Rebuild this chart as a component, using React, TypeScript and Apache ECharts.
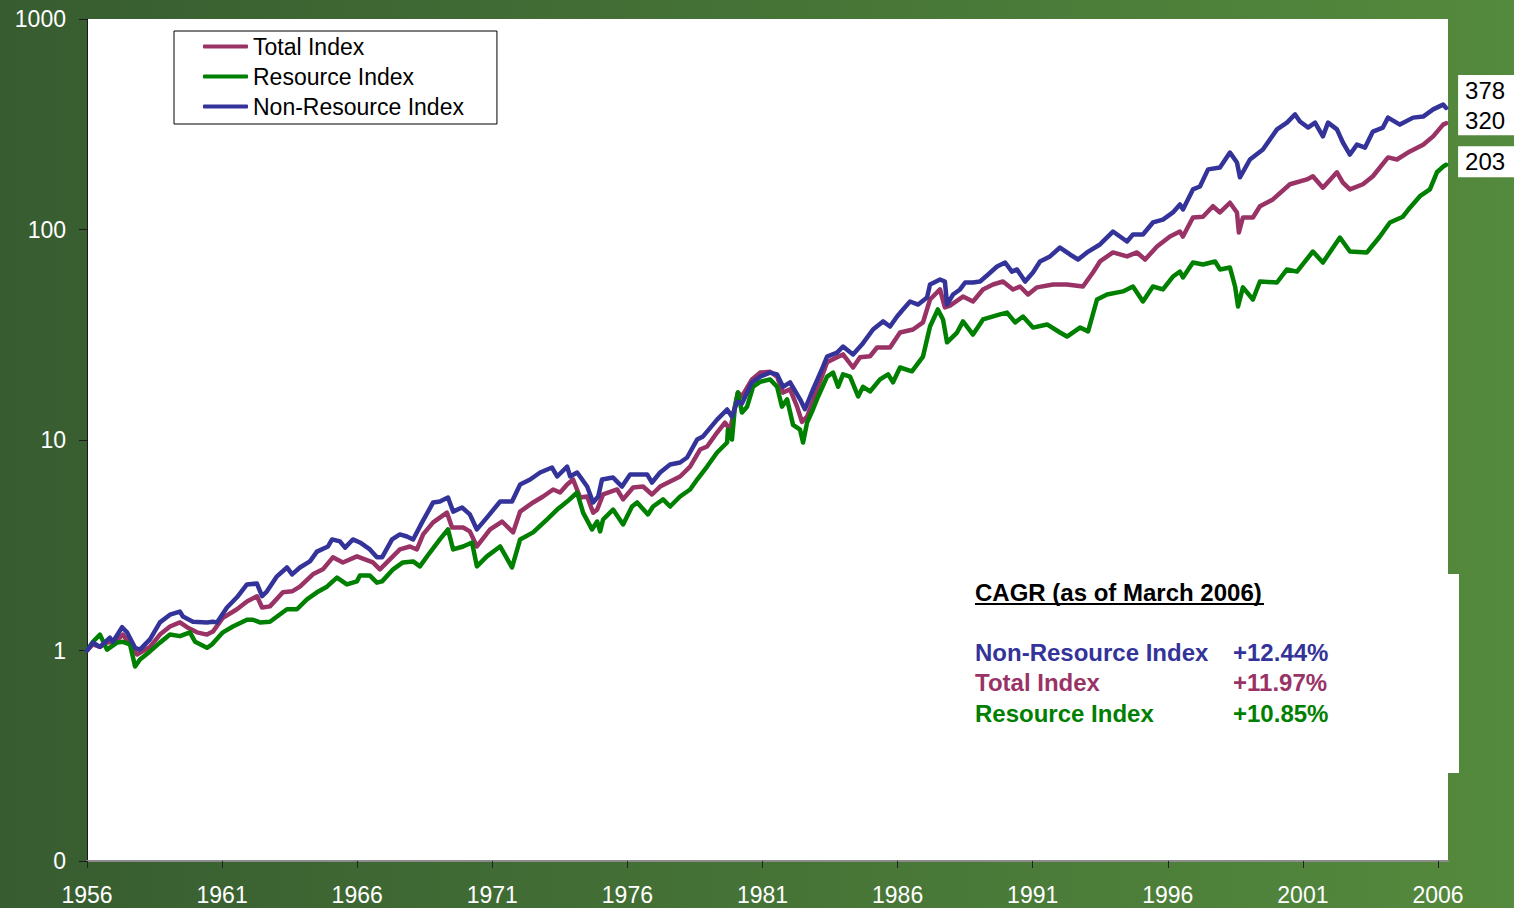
import React, { useEffect, useRef } from 'react';
import * as echarts from 'echarts';

const FONT = '"Liberation Sans", Arial, Helvetica, sans-serif';

const baseYear = 1956;
const xTickYears = [1956, 1961, 1966, 1971, 1976, 1981, 1986, 1991, 1996, 2001, 2006];
const xMaxYear = 2006.37;

const seriesNames = ['Total Index', 'Resource Index', 'Non-Resource Index'];
const seriesColors = ['#993366', '#008000', '#333399'];

// [decimal year, index value]
const totalIndex: [number, number][] = [
  [1956.0, 1.0], [1956.22, 1.07], [1956.48, 1.04], [1956.74, 1.09], [1957.04, 1.1], [1957.33, 1.19], [1957.52, 1.1],
  [1957.85, 0.957], [1958.33, 1.04], [1958.7, 1.19], [1959.07, 1.3], [1959.44, 1.36], [1959.7, 1.29], [1960.07, 1.22],
  [1960.44, 1.19], [1960.66, 1.23], [1961.03, 1.43], [1961.55, 1.57], [1961.92, 1.71], [1962.29, 1.81], [1962.48, 1.6],
  [1962.77, 1.62], [1963.25, 1.89], [1963.59, 1.91], [1963.88, 2.01], [1964.36, 2.3], [1964.73, 2.43], [1965.1, 2.77],
  [1965.47, 2.62], [1965.99, 2.8], [1966.58, 2.62], [1966.84, 2.43], [1967.21, 2.71], [1967.58, 3.02], [1967.95, 3.12],
  [1968.21, 3.02], [1968.44, 3.56], [1968.81, 4.06], [1969.32, 4.52], [1969.51, 3.84], [1969.92, 3.84], [1970.17, 3.68],
  [1970.43, 3.12], [1970.92, 3.76], [1971.36, 4.1], [1971.77, 3.64], [1972.03, 4.57], [1972.51, 5.05], [1972.88, 5.39],
  [1973.25, 5.82], [1973.51, 5.63], [1973.77, 6.15], [1973.99, 6.49], [1974.25, 5.33], [1974.51, 5.39], [1974.73, 4.52],
  [1974.88, 4.67], [1975.1, 5.51], [1975.62, 5.82], [1975.84, 5.22], [1976.21, 5.95], [1976.58, 6.01], [1976.91, 5.51],
  [1977.21, 6.01], [1977.58, 6.35], [1977.95, 6.71], [1978.32, 7.48], [1978.69, 9.01], [1978.95, 9.31], [1979.32, 10.85],
  [1979.61, 12.1], [1979.8, 11.2], [1980.09, 16.8], [1980.24, 16.1], [1980.61, 19.4], [1980.91, 20.9], [1981.28, 21.1],
  [1981.54, 20.0], [1981.76, 16.8], [1982.02, 17.4], [1982.28, 14.4], [1982.46, 12.2], [1982.65, 12.9], [1983.06, 17.9],
  [1983.39, 23.4], [1983.76, 24.7], [1983.98, 25.5], [1984.35, 22.1], [1984.61, 24.7], [1984.98, 25.0], [1985.24, 27.5],
  [1985.72, 27.5], [1986.09, 32.4], [1986.57, 33.5], [1986.94, 36.2], [1987.2, 46.5], [1987.57, 51.9], [1987.75, 42.6],
  [1987.94, 43.5], [1988.42, 48.0], [1988.79, 45.5], [1989.16, 51.9], [1989.53, 54.8], [1989.9, 56.6], [1990.27, 51.9],
  [1990.53, 53.6], [1990.83, 49.1], [1991.16, 53.1], [1991.75, 54.8], [1992.27, 54.8], [1992.86, 53.6], [1993.23, 62.5],
  [1993.49, 70.5], [1993.97, 77.8], [1994.49, 74.5], [1994.86, 77.8], [1995.16, 72.0], [1995.6, 83.0], [1996.08, 92.6],
  [1996.45, 97.8], [1996.56, 92.6], [1996.93, 114], [1997.3, 115], [1997.67, 129], [1997.93, 120.5], [1998.3, 134],
  [1998.56, 120.5], [1998.63, 96.8], [1998.78, 114], [1999.15, 114], [1999.41, 129], [1999.89, 139], [2000.52, 164],
  [2001.15, 173], [2001.37, 179], [2001.74, 158], [2002.26, 187], [2002.48, 167], [2002.74, 155], [2003.22, 164],
  [2003.59, 179], [2004.15, 220], [2004.48, 215], [2004.96, 235], [2005.45, 253], [2005.82, 277], [2006.19, 315],
  [2006.3, 320],
];

const resourceIndex: [number, number][] = [
  [1956.0, 1.0], [1956.22, 1.1], [1956.48, 1.19], [1956.74, 1.01], [1957.11, 1.09], [1957.33, 1.1], [1957.59, 1.07],
  [1957.78, 0.84], [1957.96, 0.906], [1958.33, 0.99], [1958.7, 1.09], [1959.07, 1.19], [1959.44, 1.17], [1959.81, 1.22],
  [1960.0, 1.1], [1960.44, 1.03], [1960.63, 1.07], [1961.03, 1.22], [1961.4, 1.3], [1961.92, 1.4], [1962.14, 1.4],
  [1962.4, 1.36], [1962.77, 1.37], [1963.4, 1.57], [1963.77, 1.57], [1964.14, 1.75], [1964.51, 1.89], [1964.88, 2.01],
  [1965.25, 2.22], [1965.62, 2.06], [1965.99, 2.13], [1966.1, 2.27], [1966.47, 2.27], [1966.73, 2.1], [1966.92, 2.13],
  [1967.33, 2.43], [1967.69, 2.62], [1968.07, 2.65], [1968.32, 2.51], [1968.69, 2.92], [1969.06, 3.37], [1969.36, 3.76],
  [1969.55, 3.02], [1969.92, 3.12], [1970.25, 3.26], [1970.43, 2.51], [1970.8, 2.8], [1971.29, 3.12], [1971.73, 2.48],
  [1972.03, 3.37], [1972.51, 3.64], [1973.02, 4.19], [1973.4, 4.67], [1973.77, 5.1], [1974.14, 5.63], [1974.36, 4.52],
  [1974.69, 3.76], [1974.88, 4.1], [1974.99, 3.68], [1975.1, 4.19], [1975.47, 4.67], [1975.84, 3.97], [1976.17, 4.83],
  [1976.36, 5.05], [1976.76, 4.43], [1976.95, 4.83], [1977.32, 5.22], [1977.58, 4.83], [1977.95, 5.39], [1978.32, 5.82],
  [1978.58, 6.49], [1978.95, 7.48], [1979.32, 8.72], [1979.69, 9.73], [1979.72, 11.2], [1979.87, 10.05], [1979.98, 14.4],
  [1980.09, 16.8], [1980.24, 13.5], [1980.43, 14.4], [1980.65, 17.9], [1980.91, 18.9], [1981.28, 19.4], [1981.54, 17.9],
  [1981.72, 14.4], [1981.91, 15.6], [1982.13, 11.8], [1982.39, 11.2], [1982.5, 9.73], [1982.65, 12.1], [1982.87, 14.0],
  [1983.06, 16.1], [1983.39, 20.0], [1983.61, 20.9], [1983.8, 17.9], [1983.98, 20.5], [1984.24, 20.0], [1984.54, 16.1],
  [1984.72, 17.9], [1984.98, 17.0], [1985.35, 19.4], [1985.65, 20.5], [1985.83, 18.8], [1986.09, 22.1], [1986.53, 21.2],
  [1986.94, 24.9], [1987.2, 34.6], [1987.49, 41.7], [1987.68, 37.4], [1987.83, 29.1], [1988.2, 32.4], [1988.42, 36.6],
  [1988.79, 31.7], [1989.16, 37.4], [1989.79, 39.5], [1990.05, 40.3], [1990.35, 36.2], [1990.64, 38.6], [1991.01, 34.2],
  [1991.53, 35.4], [1992.01, 32.4], [1992.27, 31.0], [1992.75, 34.2], [1993.05, 32.8], [1993.38, 46.5], [1993.75, 49.1],
  [1994.34, 50.8], [1994.71, 53.6], [1995.08, 45.5], [1995.45, 53.6], [1995.82, 51.9], [1996.19, 59.8], [1996.45, 63.1],
  [1996.56, 59.2], [1996.93, 69.7], [1997.3, 68.2], [1997.75, 70.5], [1997.93, 64.6], [1998.3, 66.0], [1998.49, 53.6],
  [1998.6, 43.1], [1998.78, 53.1], [1999.15, 46.5], [1999.41, 56.6], [2000.04, 56.0], [2000.41, 64.6], [2000.78, 63.1],
  [2001.37, 78.6], [2001.74, 69.7], [2002.37, 91.6], [2002.74, 78.6], [2003.37, 77.8], [2003.85, 92.6], [2004.22, 108],
  [2004.7, 115], [2004.96, 127], [2005.33, 144], [2005.7, 155], [2005.96, 187], [2006.19, 199], [2006.3, 203],
];

const nonResourceIndex: [number, number][] = [
  [1956.0, 1.0], [1956.22, 1.09], [1956.48, 1.04], [1956.85, 1.15], [1956.96, 1.1], [1957.3, 1.29], [1957.48, 1.22],
  [1957.78, 1.03], [1957.96, 1.01], [1958.33, 1.13], [1958.7, 1.36], [1959.07, 1.48], [1959.44, 1.53], [1959.55, 1.45],
  [1959.92, 1.37], [1960.44, 1.36], [1960.66, 1.37], [1960.81, 1.36], [1961.18, 1.6], [1961.55, 1.79], [1961.92, 2.06],
  [1962.29, 2.08], [1962.48, 1.81], [1962.66, 1.91], [1963.03, 2.25], [1963.4, 2.48], [1963.59, 2.3], [1963.88, 2.48],
  [1964.25, 2.65], [1964.51, 2.95], [1964.92, 3.12], [1965.07, 3.37], [1965.36, 3.3], [1965.55, 3.08], [1965.84, 3.37],
  [1966.1, 3.26], [1966.47, 3.02], [1966.73, 2.77], [1966.92, 2.77], [1967.29, 3.37], [1967.58, 3.56], [1967.84, 3.48],
  [1968.07, 3.37], [1968.4, 4.06], [1968.81, 5.05], [1969.06, 5.1], [1969.36, 5.33], [1969.55, 4.57], [1969.88, 4.78],
  [1970.17, 4.43], [1970.43, 3.76], [1970.8, 4.28], [1971.29, 5.1], [1971.73, 5.1], [1972.03, 6.15], [1972.4, 6.49],
  [1972.77, 7.01], [1973.21, 7.4], [1973.4, 6.71], [1973.77, 7.48], [1973.88, 6.71], [1974.14, 7.01], [1974.51, 6.01],
  [1974.73, 5.05], [1974.92, 5.39], [1975.06, 6.49], [1975.47, 6.63], [1975.8, 6.01], [1976.1, 6.86], [1976.73, 6.86],
  [1976.91, 6.28], [1977.21, 7.01], [1977.58, 7.65], [1977.95, 7.82], [1978.21, 8.26], [1978.58, 10.05], [1978.8, 10.4],
  [1979.32, 12.5], [1979.69, 13.96], [1979.87, 12.9], [1980.06, 15.2], [1980.24, 14.9], [1980.61, 18.8], [1980.91, 20.0],
  [1981.28, 20.9], [1981.54, 20.5], [1981.76, 17.9], [1982.02, 18.8], [1982.39, 15.6], [1982.57, 14.0], [1982.87, 17.4],
  [1983.24, 22.3], [1983.39, 24.9], [1983.76, 26.0], [1983.98, 27.8], [1984.35, 25.5], [1984.68, 28.4], [1985.09, 33.5],
  [1985.46, 36.6], [1985.72, 34.6], [1985.98, 38.6], [1986.2, 41.7], [1986.46, 45.5], [1986.76, 44.0], [1987.09, 47.5],
  [1987.2, 54.8], [1987.57, 57.9], [1987.75, 56.6], [1987.83, 44.0], [1988.05, 49.1], [1988.31, 51.9], [1988.5, 56.0],
  [1988.79, 56.0], [1989.05, 56.6], [1989.35, 61.1], [1989.68, 66.7], [1989.98, 69.7], [1990.23, 63.1], [1990.42, 64.6],
  [1990.72, 56.6], [1991.01, 62.5], [1991.27, 70.5], [1991.64, 74.5], [1992.01, 82.1], [1992.38, 76.1], [1992.68, 72.0],
  [1993.01, 77.8], [1993.49, 84.9], [1993.97, 97.8], [1994.49, 87.7], [1994.71, 94.7], [1995.08, 94.7], [1995.45, 108],
  [1995.82, 111.5], [1996.19, 120.5], [1996.45, 131.5], [1996.56, 124.5], [1996.93, 155], [1997.19, 160], [1997.49, 193],
  [1997.93, 197], [1998.3, 232], [1998.56, 208], [1998.67, 177], [1999.04, 215], [1999.52, 240], [2000.04, 299],
  [2000.41, 322], [2000.71, 352], [2000.89, 326], [2001.19, 305], [2001.45, 322], [2001.74, 277], [2001.93, 322],
  [2002.26, 299], [2002.48, 259], [2002.74, 227], [2003.0, 253], [2003.3, 245], [2003.59, 292], [2003.96, 305],
  [2004.15, 340], [2004.59, 315], [2005.08, 340], [2005.45, 344], [2005.82, 372], [2006.19, 392], [2006.3, 378],
];

const seriesData = [totalIndex, resourceIndex, nonResourceIndex];

const cagrTitle = 'CAGR (as of March 2006)';
const cagrNames = ['Non-Resource Index', 'Total Index', 'Resource Index'];
const cagrValues = ['+12.44%', '+11.97%', '+10.85%'];
const cagrColors = ['#333399', '#993366', '#008000'];

// end label box paddings / offsets (layout only)
const endLabelLayout = [
  { offsetY: -3, padding: [4, 12, 4, 7] },
  { offsetY: -3, padding: [5, 12, 4, 7] },
  { offsetY: -17, padding: [6, 12, 4, 7] },
];

export default function App() {
  const ref = useRef<HTMLDivElement>(null);

  useEffect(() => {
    if (!ref.current) return;
    const chart = echarts.init(ref.current, undefined, { renderer: 'svg' });

    const series = seriesNames.map((name, i) => ({
      name,
      type: 'line',
      symbol: 'none',
      smooth: false,
      data: seriesData[i].map(([yr, v]) => [yr - baseYear, v]),
      lineStyle: { color: seriesColors[i], width: 4.5, cap: 'round', join: 'round' },
      itemStyle: { color: seriesColors[i] },
      z: 3 + i,
      endLabel: {
        show: true,
        formatter: (p: any) => String(Math.round(p.value[1])),
        color: '#000',
        fontFamily: FONT,
        fontSize: 24,
        lineHeight: 22,
        backgroundColor: '#fff',
        padding: endLabelLayout[i].padding,
        distance: 12,
        offset: [0, endLabelLayout[i].offsetY],
        align: 'left',
        width: 38,
      },
    }));

    const rowY = [652, 682, 713];
    const graphicEls: any[] = [
      {
        type: 'rect',
        z: 10,
        shape: { x: 960, y: 574, width: 499, height: 199 },
        style: { fill: '#ffffff' },
      },
      {
        type: 'text',
        z: 11,
        x: 975,
        y: 592,
        style: {
          text: cagrTitle,
          fontFamily: FONT,
          fontSize: 24,
          fontWeight: 'bold',
          fill: '#000',
          verticalAlign: 'middle',
        },
      },
      {
        type: 'line',
        z: 11,
        shape: { x1: 975, y1: 604, x2: 1264, y2: 604 },
        style: { stroke: '#000', lineWidth: 2 },
      },
    ];
    cagrNames.forEach((n, i) => {
      graphicEls.push({
        type: 'text',
        z: 11,
        x: 975,
        y: rowY[i],
        style: {
          text: n,
          fontFamily: FONT,
          fontSize: 24,
          fontWeight: 'bold',
          fill: cagrColors[i],
          verticalAlign: 'middle',
        },
      });
      graphicEls.push({
        type: 'text',
        z: 11,
        x: 1233,
        y: rowY[i],
        style: {
          text: cagrValues[i],
          fontFamily: FONT,
          fontSize: 24,
          fontWeight: 'bold',
          fill: cagrColors[i],
          verticalAlign: 'middle',
        },
      });
    });

    const xTicks = xTickYears.map((y) => y - baseYear);

    chart.setOption({
      animation: false,
      backgroundColor: new echarts.graphic.LinearGradient(0, 0, 1, 0, [
        { offset: 0, color: '#375c30' },
        { offset: 1, color: '#548a3d' },
      ]),
      textStyle: { fontFamily: FONT },
      grid: {
        left: 87,
        right: 66,
        top: 19,
        bottom: 47,
        show: true,
        backgroundColor: '#ffffff',
        borderWidth: 0,
        containLabel: false,
      },
      legend: {
        orient: 'vertical',
        left: 174,
        top: 31,
        data: seriesNames,
        backgroundColor: '#ffffff',
        borderColor: '#000000',
        borderWidth: 1,
        borderRadius: 0,
        padding: [4, 33, 6, 29],
        itemGap: 7,
        itemWidth: 45,
        itemHeight: 4,
        itemTextGap: 5,
        icon: 'roundRect',
        selectedMode: false,
        textStyle: { fontFamily: FONT, fontSize: 23, color: '#000', lineHeight: 23 },
      },
      xAxis: {
        type: 'value',
        min: 0,
        max: xMaxYear - baseYear,
        interval: 5,
        splitLine: { show: false },
        axisLine: { show: true, lineStyle: { color: '#8c8c8c', width: 2 } },
        axisTick: { show: true, length: 7, lineStyle: { color: '#222' }, customValues: xTicks },
        axisLabel: {
          color: '#ffffff',
          fontFamily: FONT,
          fontSize: 23,
          margin: 22,
          customValues: xTicks,
          formatter: (v: number) => {
            const r = Math.round(v);
            return Math.abs(v - r) < 1e-6 && r % 5 === 0 ? String(baseYear + r) : '';
          },
        },
      },
      yAxis: {
        type: 'log',
        logBase: 10,
        min: 0.1,
        max: 1000,
        splitLine: { show: false },
        minorTick: { show: false },
        axisLine: { show: true, lineStyle: { color: '#1a1a1a', width: 1 } },
        axisTick: { show: true, length: 8, lineStyle: { color: '#1a1a1a' } },
        axisLabel: {
          color: '#ffffff',
          fontFamily: FONT,
          fontSize: 23,
          margin: 21,
          formatter: (v: number) => (v < 0.5 ? '0' : String(Math.round(v))),
        },
      },
      series,
      graphic: { elements: graphicEls },
    });

    return () => {
      chart.dispose();
    };
  }, []);

  return (
    <div
      ref={ref}
      style={{ position: 'fixed', left: 0, top: 0, width: '1514px', height: '908px' }}
    />
  );
}
